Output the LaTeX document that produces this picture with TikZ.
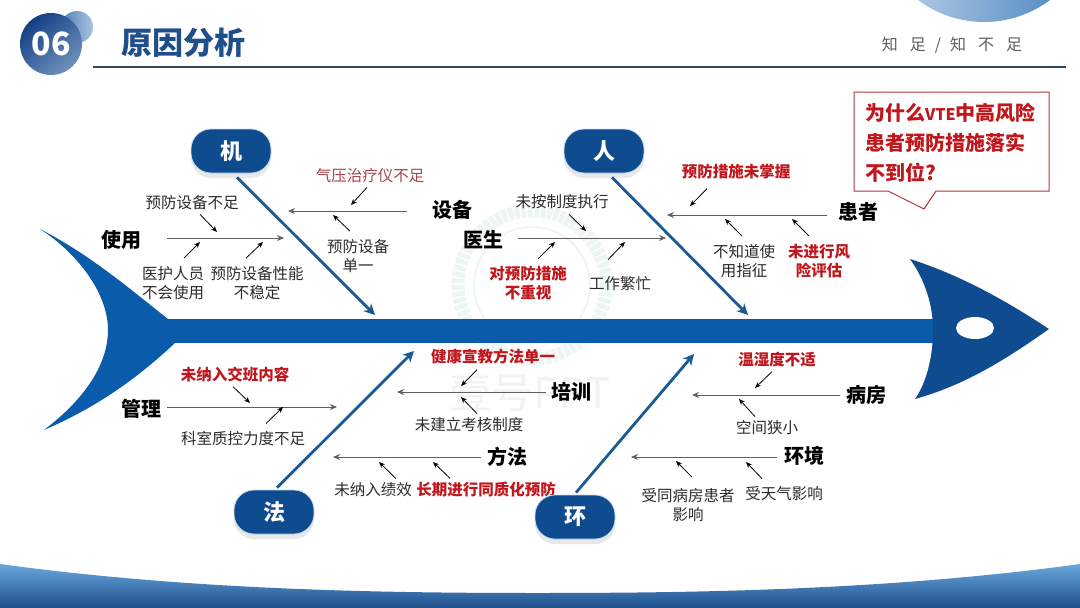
\documentclass[tikz,border=0pt]{standalone}
\usepackage{fontspec}
\setmainfont{Noto Sans CJK SC}
\definecolor{SpineBlue}{HTML}{0B5BAB}
\definecolor{HeadBlue}{HTML}{0F4C8F}
\definecolor{BoneBlue}{HTML}{1B5A94}
\definecolor{PillEdge}{HTML}{BFD7EE}
\definecolor{TitleBlue}{HTML}{1F4E8C}
\definecolor{RuleDark}{HTML}{2F4A5E}
\definecolor{LineGray}{HTML}{5F5F5F}
\definecolor{TextDark}{HTML}{2B2B2B}
\definecolor{RedBold}{HTML}{C0161C}
\definecolor{RedThin}{HTML}{A8444C}
\definecolor{BoxRed}{HTML}{B0393C}
\definecolor{MarkGray}{HTML}{F0F2F4}
\definecolor{MarkTeal}{HTML}{EEF5F5}
\definecolor{SunLight}{HTML}{C5D8EC}
\definecolor{SunDark}{HTML}{3E7CB9}
\definecolor{BackDark}{HTML}{4F7FB5}
\definecolor{BackLight}{HTML}{A9C3DF}
\definecolor{NumDark}{HTML}{123F85}
\definecolor{NumLight}{HTML}{6F92BC}
\definecolor{BandLight}{HTML}{6AA7DC}
\definecolor{BandDark}{HTML}{1D4F8C}
\usetikzlibrary{arrows.meta, shadows}
\tikzset{
  lbl/.style={inner sep=1pt, align=center, text=TextDark,
    font=\fontsize{15.5}{19}\selectfont},
  redLbl/.style={lbl, text=RedBold, font=\bfseries\fontsize{15.5}{19}\selectfont},
  headLbl/.style={inner sep=1pt, text=black, font=\bfseries\fontsize{20}{24}\selectfont},
  pill/.style={
    rectangle, rounded corners=20pt,
    minimum width=80pt, minimum height=44pt,
    fill=HeadBlue, draw=PillEdge, line width=0.8pt, text=white,
    font=\bfseries\fontsize{22}{26}\selectfont,
    drop shadow={shadow xshift=0pt, shadow yshift=-5pt, opacity=0.18}
  },
  boneArr/.style={-{Stealth[length=11pt,width=11pt]}, line width=2.8pt, color=BoneBlue},
  arr/.style={-{Stealth[length=7pt,width=6pt]}, line width=1pt, color=LineGray},
  subArr/.style={-{Stealth[length=6pt,width=5pt]}, line width=0.8pt, color=black},
}
\begin{document}
\begin{tikzpicture}[x=1pt,y=-1pt]
\useasboundingbox[fill=white] (0,0) rectangle (1080,608);

% Watermark
\draw[MarkTeal, line width=13pt, dash pattern=on 5pt off 1.5pt] (532,285) circle (74);
\draw[MarkTeal, line width=2pt] (532,285) circle (58);
\node[text=MarkGray, inner sep=0pt, font=\fontsize{42}{46}\selectfont] at (530,393) (mark) {壹号PPT};

% Header
\begin{scope}
\clip (0,0) rectangle (1080,608);
\shade[left color=SunLight, right color=SunDark] (984,-88) circle (110);
\end{scope}
\shade[left color=BackDark, right color=BackLight] (77,27) circle (16);
\node[circle, minimum size=62pt, inner sep=0pt, left color=NumDark, right color=NumLight,
  shading angle=40, text=white, font=\bfseries\fontsize{32}{36}\selectfont] at (51,44) (num) {06};
\node[inner sep=0pt, text=TitleBlue, font=\bfseries\fontsize{31}{35}\selectfont] at (183,43) (title) {原因分析};
\draw[RuleDark, line width=1.4pt] (93,67) -- (1066,67);
\node[inner sep=0pt, text=LineGray, font=\fontsize{16}{18}\selectfont] at (952,45) (motto)
  {知\hspace{12pt}足\hspace{9pt}/\hspace{9pt}知\hspace{12pt}不\hspace{12pt}足};

% Bottom band
\shade[top color=BandLight, bottom color=BandDark]
  (0,564) .. controls (190,590) and (380,593) .. (538,593)
  .. controls (700,593) and (890,590) .. (1080,564) -- (1080,608) -- (0,608) -- cycle;

% Fish
\fill[SpineBlue] (40,229) .. controls (90,255) and (125,285) .. (168,319)
  -- (175,343) .. controls (130,385) and (90,410) .. (44,430)
  .. controls (90,395) and (108,360) .. (108,330)
  .. controls (108,295) and (80,255) .. (40,229) -- cycle;
\fill[SpineBlue] (165,319) rectangle (936,343);
\fill[HeadBlue] (910,259) .. controls (960,275) and (1005,300) .. (1049,329)
  .. controls (1005,360) and (965,385) .. (915,399)
  .. controls (925,385) and (933,360) .. (933,330)
  .. controls (933,305) and (925,280) .. (910,259) -- cycle;
\fill[white] (975,328) ellipse (19 and 11);

% Question box
\draw[BoxRed, line width=1pt, fill=white] (854,92) -- (1049,92) -- (1049,191) -- (936,191)
  -- (924,209) -- (888,191) -- (854,191) -- cycle;
\node[inner sep=0pt, text width=180pt, align=left, text=RedBold,
  font=\bfseries\fontsize{20}{30}\selectfont, anchor=west] at (865,143) (why)
  {为什么{\fontsize{16}{30}\selectfont VTE}中高风险\\患者预防措施落实\\不到位?};

% Machine side
\node[headLbl] at (452,210) (device) {设备};
\node[headLbl] at (121,240) (usage) {使用};
\node[lbl] at (192,203) (devShort) {预防设备不足};
\node[lbl] at (173,283) (staff) {医护人员\\不会使用};
\node[lbl] at (257,283) (unstable) {预防设备性能\\不稳定};
\node[lbl, text=RedThin] at (370,176) (pump) {气压治疗仪不足};
\node[lbl] at (358,256) (single) {预防设备\\单一};
\coordinate (deviceEnd) at (288,211);
\coordinate (usageEnd) at (284,238);
\coordinate (devShortEnd) at (217,232);
\coordinate (staffEnd) at (200,242);
\coordinate (unstableEnd) at (263,242);
\coordinate (pumpEnd) at (351,205);
\coordinate (singleEnd) at (333,215);
\draw[arr] ([xshift=-24pt,yshift=-1pt]device.west) -- (deviceEnd);
\draw[arr] ([xshift=25pt,yshift=2pt]usage.east) -- (usageEnd);
\draw[subArr] ([xshift=8pt,yshift=-3pt]devShort.south) -- (devShortEnd);
\draw[subArr] ([xshift=11pt,yshift=7pt]staff.north) -- (staffEnd);
\draw[subArr] ([xshift=-11pt,yshift=7pt]unstable.north) -- (unstableEnd);
\draw[subArr] ([xshift=-3pt,yshift=-3pt]pump.south) -- (pumpEnd);
\draw[subArr] ([xshift=-8pt,yshift=7pt]single.north) -- (singleEnd);

% People side
\node[headLbl] at (483,240) (doctor) {医生};
\node[headLbl] at (858,212) (patient) {患者};
\node[lbl] at (562,202) (rule) {未按制度执行};
\node[redLbl] at (528,283) (ignore) {对预防措施\\不重视};
\node[lbl] at (620,284) (busy) {工作繁忙};
\node[redLbl] at (736,172) (unknown) {预防措施未掌握};
\node[lbl] at (744,261) (indic) {不知道使\\用指征};
\node[redLbl] at (819,261) (risk) {未进行风\\险评估};
\coordinate (doctorEnd) at (666,238);
\coordinate (patientEnd) at (667,215);
\coordinate (ruleEnd) at (586,231);
\coordinate (ignoreEnd) at (555,242);
\coordinate (busyEnd) at (625,242);
\coordinate (unknownEnd) at (690,206);
\coordinate (indicEnd) at (725,219);
\coordinate (riskEnd) at (792,219);
\draw[arr] ([xshift=14pt,yshift=2pt]doctor.east) -- (doctorEnd);
\draw[arr] ([xshift=-10pt,yshift=-3pt]patient.west) -- (patientEnd);
\draw[subArr] ([xshift=7pt,yshift=-4pt]rule.south) -- (ruleEnd);
\draw[subArr] ([xshift=10pt,yshift=6pt]ignore.north) -- (ignoreEnd);
\draw[subArr] ([xshift=-12pt,yshift=16pt]busy.north) -- (busyEnd);
\draw[subArr] ([xshift=-29pt,yshift=-8pt]unknown.south) -- (unknownEnd);
\draw[subArr] ([xshift=-2pt,yshift=7pt]indic.north) -- (indicEnd);
\draw[subArr] ([xshift=-10pt,yshift=7pt]risk.north) -- (riskEnd);

% Method side
\node[headLbl] at (141,409) (manage) {管理};
\node[headLbl] at (571,392) (train) {培训};
\node[headLbl] at (507,457) (method) {方法};
\node[redLbl] at (235,375) (shiftIn) {未纳入交班内容};
\node[lbl] at (243,439) (quality) {科室质控力度不足};
\node[redLbl] at (493,357) (teach) {健康宣教方法单一};
\node[lbl] at (469,425) (exam) {未建立考核制度};
\node[lbl] at (373,490) (merit) {未纳入绩效};
\node[redLbl] at (486,490) (same) {长期进行同质化预防};
\coordinate (manageEnd) at (337,407);
\coordinate (trainEnd) at (397,392);
\coordinate (methodEnd) at (333,457);
\coordinate (shiftEnd) at (250,403);
\coordinate (qualityEnd) at (283,407);
\coordinate (teachEnd) at (461,386);
\coordinate (examEnd) at (461,397);
\coordinate (meritEnd) at (379,462);
\coordinate (sameEnd) at (433,462);
\draw[arr] ([xshift=5pt,yshift=2pt]manage.east) -- (manageEnd);
\draw[arr] ([xshift=-4pt]train.west) -- (trainEnd);
\draw[arr] ([xshift=-5pt]method.west) -- (methodEnd);
\draw[subArr] ([xshift=-2pt,yshift=-3pt]shiftIn.south) -- (shiftEnd);
\draw[subArr] ([xshift=23pt,yshift=7pt]quality.north) -- (qualityEnd);
\draw[subArr] ([xshift=-16pt,yshift=-4pt]teach.south) -- (teachEnd);
\draw[subArr] ([xshift=8pt,yshift=3pt]exam.north) -- (examEnd);
\draw[subArr] ([xshift=23pt,yshift=3pt]merit.north) -- (meritEnd);
\draw[subArr] ([xshift=-36pt,yshift=3pt]same.north) -- (sameEnd);

% Environment side
\node[headLbl] at (866,395) (ward) {病房};
\node[headLbl] at (804,456) (surround) {环境};
\node[redLbl] at (777,360) (humid) {温湿度不适};
\node[lbl] at (767,428) (narrow) {空间狭小};
\node[lbl] at (688,505) (others) {受同病房患者\\影响};
\node[lbl] at (784,494) (weather) {受天气影响};
\coordinate (wardEnd) at (692,395);
\coordinate (surroundEnd) at (631,457);
\coordinate (humidEnd) at (755,388);
\coordinate (narrowEnd) at (739,399);
\coordinate (othersEnd) at (676,461);
\coordinate (weatherEnd) at (746,462);
\draw[arr] ([xshift=-5pt]ward.west) -- (wardEnd);
\draw[arr] ([xshift=-6pt,yshift=-1pt]surround.west) -- (surroundEnd);
\draw[subArr] ([xshift=-5pt,yshift=-3pt]humid.south) -- (humidEnd);
\draw[subArr] ([xshift=-12pt,yshift=3pt]narrow.north) -- (narrowEnd);
\draw[subArr] ([xshift=4pt,yshift=10pt]others.north) -- (othersEnd);
\draw[subArr] ([xshift=-22pt,yshift=7pt]weather.north) -- (weatherEnd);

% Main categories
\node[pill] at (231,151) (machine) {机};
\node[pill] at (604,151) (people) {人};
\node[pill] at (274,512) (rules) {法};
\node[pill] at (575,517) (place) {环};
\coordinate (machineEnd) at (375,315);
\coordinate (peopleEnd) at (748,315);
\coordinate (rulesEnd) at (414,351);
\coordinate (placeEnd) at (694,354);
\draw[boneArr] ([xshift=6pt,yshift=-4pt]machine.south) -- (machineEnd);
\draw[boneArr] ([xshift=8pt,yshift=-4pt]people.south) -- (peopleEnd);
\draw[boneArr] ([xshift=3pt,yshift=2pt]rules.north) -- (rulesEnd);
\draw[boneArr] ([xshift=1pt,yshift=2pt]place.north) -- (placeEnd);

\end{tikzpicture}
\end{document}
